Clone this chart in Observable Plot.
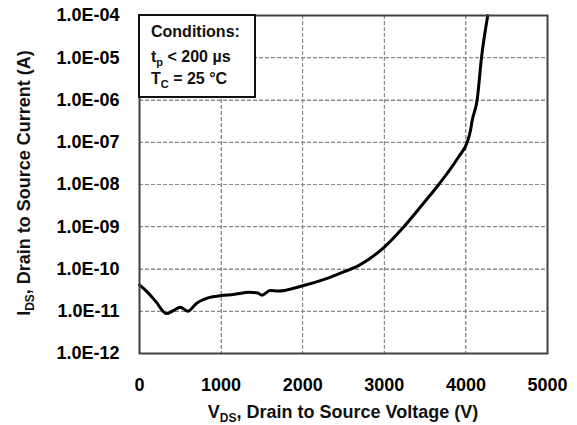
<!DOCTYPE html>
<html>
<head>
<meta charset="utf-8">
<script src="https://cdn.jsdelivr.net/npm/d3@7"></script>
<script src="https://cdn.jsdelivr.net/npm/@observablehq/plot@0.6"></script>
<style>
  html, body { margin: 0; padding: 0; background: #fff; }
</style>
</head>
<body>
<div id="chart"></div>
<script>
// Drain-source voltage (V) and leakage current (A)
const voltage = [0, 100, 200, 330, 420, 500, 590, 700, 850, 1000, 1150, 1350, 1450, 1500, 1600, 1700, 2000, 2300, 2500, 2700, 3000, 3240, 3500, 3668, 3913, 4016, 4056, 4077, 4138, 4191, 4268];
const current = [4.2e-11, 2.8e-11, 1.7e-11, 8.8e-12, 1.05e-11, 1.25e-11, 1.0e-11, 1.55e-11, 2.1e-11, 2.35e-11, 2.5e-11, 2.8e-11, 2.7e-11, 2.4e-11, 3.1e-11, 3.0e-11, 4.0e-11, 6.0e-11, 8.5e-11, 1.25e-10, 3.3e-10, 1.0e-9, 4.0e-9, 1.0e-8, 4.6e-8, 1.0e-7, 1.9e-7, 3.3e-7, 1.0e-6, 1.0e-5, 1.0e-4];
const xTicks = [0, 1000, 2000, 3000, 4000, 5000];
const yTicks = [1e-12, 1e-11, 1e-10, 1e-9, 1e-8, 1e-7, 1e-6, 1e-5, 1e-4];
const xGrid = [1000, 2000, 3000, 4000];
const yGrid = [1e-11, 1e-10, 1e-9, 1e-8, 1e-7, 1e-6, 1e-5];
const xTitle = ["V", "DS", ", Drain to Source Voltage (V)"];
const yTitle = ["I", "DS", ", Drain to Source Current (A)"];
const conditionsTitle = "Conditions:";
const conditionLines = [["t", "p", " < 200 µs"], ["T", "C", " = 25 °C"]];

const data = voltage.map((v, i) => ({v, i: current[i]}));
const fmtY = d => {
  const e = Math.round(Math.log10(d));
  const s = e < 0 ? "-" : "+";
  return "1.0E" + s + String(Math.abs(e)).padStart(2, "0");
};

const font = "'Liberation Sans', Arial, sans-serif";
const svg = Plot.plot({
  width: 577,
  height: 425,
  marginLeft: 139,
  marginRight: 30,
  marginTop: 15,
  marginBottom: 72,
  style: {fontFamily: font, fontSize: "18px", fontWeight: "bold"},
  x: {domain: [0, 5000], label: null},
  y: {type: "log", domain: [1e-12, 1e-4], label: null},
  marks: [
    Plot.ruleX(xGrid, {stroke: "#8a8a8a", strokeWidth: 1, strokeDasharray: "4,2"}),
    Plot.ruleY(yGrid, {stroke: "#8a8a8a", strokeWidth: 1, strokeDasharray: "4,2"}),
    Plot.line(data, {x: "v", y: "i", stroke: "#000", strokeWidth: 3, curve: "monotone-x"}),
    Plot.axisX(xTicks, {tickSize: 0, tickPadding: 25, fontSize: 18, fontWeight: "bold", tickFormat: d => String(d), label: null}),
    Plot.axisY(yTicks, {tickSize: 0, tickPadding: 20, fontSize: 18, fontWeight: "bold", tickFormat: fmtY, label: null}),
    Plot.frame({stroke: "#404040", strokeWidth: 2})
  ]
});

const root = d3.select(svg);

// Grid backup drawn from Plot's own scales (inserted beneath the curve)
const sx = svg.scale("x"), sy = svg.scale("y");
const fx = d3.scaleLinear().domain(sx.domain).range(sx.range);
const fy = d3.scaleLog().domain(sy.domain).range(sy.range);
const [x0, x1] = sx.range, [y0, y1] = sy.range;
const gridG = root.insert("g", ":first-child")
  .attr("stroke", "#8a8a8a").attr("stroke-width", 1).attr("stroke-dasharray", "4,2").attr("fill", "none");
xGrid.forEach(v => {
  const px = Math.round(fx(v)) + 0.5;
  gridG.append("line").attr("x1", px).attr("x2", px).attr("y1", Math.min(y0, y1)).attr("y2", Math.max(y0, y1));
});
yGrid.forEach(v => {
  const py = Math.round(fy(v)) + 0.5;
  gridG.append("line").attr("y1", py).attr("y2", py).attr("x1", Math.min(x0, x1)).attr("x2", Math.max(x0, x1));
});

function subText(sel, parts, mainSize, subSize, shift) {
  sel.append("tspan").text(parts[0]);
  sel.append("tspan").attr("font-size", subSize).attr("dy", shift).text(parts[1]);
  sel.append("tspan").attr("font-size", mainSize).attr("dy", -shift).text(parts[2]);
}

// Axis titles
const xt = root.append("text")
  .attr("x", 343).attr("y", 418)
  .attr("text-anchor", "middle")
  .attr("font-family", font).attr("font-weight", "bold").attr("font-size", 18)
  .attr("fill", "#111");
subText(xt, xTitle, 18, 12, 4);

const yt = root.append("text")
  .attr("transform", "translate(30,183) rotate(-90)")
  .attr("text-anchor", "middle")
  .attr("font-family", font).attr("font-weight", "bold").attr("font-size", 18)
  .attr("fill", "#111");
subText(yt, yTitle, 18, 12, 4);

// Conditions box
root.append("rect")
  .attr("x", 139).attr("y", 15).attr("width", 116).attr("height", 82)
  .attr("fill", "#fff").attr("stroke", "#111").attr("stroke-width", 2);
root.append("text")
  .attr("x", 151).attr("y", 37)
  .attr("text-anchor", "start")
  .attr("font-family", font).attr("font-weight", "bold").attr("font-size", 16)
  .attr("fill", "#111").text(conditionsTitle);
conditionLines.forEach((parts, k) => {
  const t = root.append("text")
    .attr("x", 151).attr("y", 61.5 + k * 22)
    .attr("text-anchor", "start")
    .attr("font-family", font).attr("font-weight", "bold").attr("font-size", 16)
    .attr("fill", "#111");
  subText(t, parts, 16, 11, 4);
});

document.getElementById("chart").appendChild(svg);
</script>
</body>
</html>
